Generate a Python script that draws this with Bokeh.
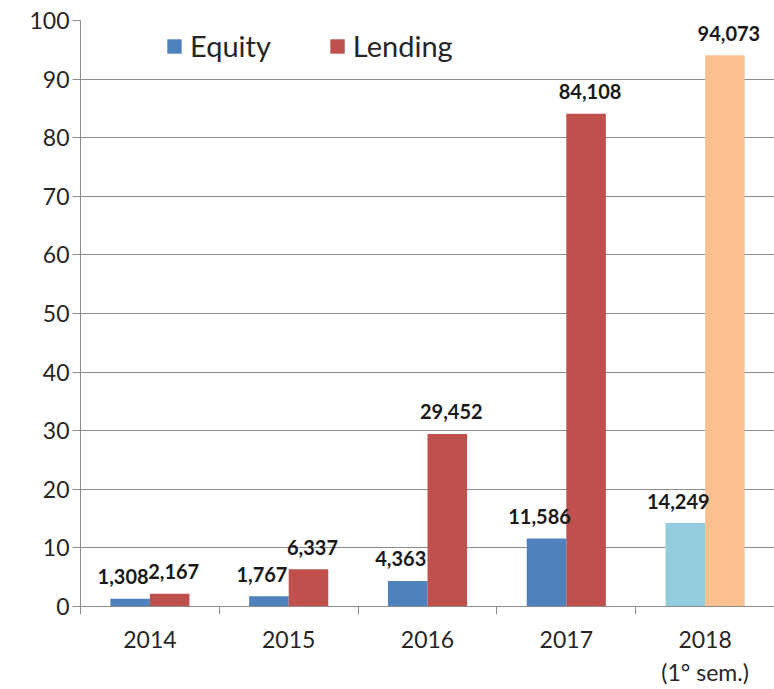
from bokeh.plotting import figure
from bokeh.models import ColumnDataSource, FixedTicker, Range1d, Legend, LegendItem
from bokeh.core.properties import value
from bokeh.embed import file_html
from bokeh.resources import INLINE

# ---- data ----
years = ["2014", "2015", "2016", "2017", "2018\n(1° sem.)"]
equity = [1308, 1767, 4363, 11586, 14249]
lending = [2167, 6337, 29452, 84108, 94073]
y_ticks = [0, 10, 20, 30, 40, 50, 60, 70, 80, 90, 100]

# ---- style ----
FONT = "Lato"
BLUE, RED = "#4F81BD", "#C0504D"
LIGHT_BLUE, LIGHT_ORANGE = "#93CDDD", "#FAC090"
GRID = "#8C8C8C"
TXT = "#262626"
BAR_W = 0.285
n = len(years)
centers = [i + 0.5 for i in range(n)]
eq_colors = [BLUE] * (n - 1) + [LIGHT_BLUE]
le_colors = [RED] * (n - 1) + [LIGHT_ORANGE]

eq_src = ColumnDataSource(dict(
    x=[c - BAR_W / 2 for c in centers],
    top=[v / 1000 for v in equity],
    label=[f"{v:,}" for v in equity],
    color=eq_colors,
))
le_src = ColumnDataSource(dict(
    x=[c + BAR_W / 2 for c in centers],
    top=[v / 1000 for v in lending],
    label=[f"{v:,}" for v in lending],
    color=le_colors,
))

p = figure(width=774, height=689, output_backend="svg", toolbar_location=None,
           x_range=Range1d(0, n), y_range=Range1d(0, 100),
           min_border_left=80, min_border_right=0, min_border_top=20,
           min_border_bottom=80)
p.outline_line_color = None
p.background_fill_color = "white"
p.border_fill_color = "white"

r_eq = p.vbar(x="x", top="top", width=BAR_W, bottom=0, source=eq_src,
              fill_color="color", line_color=None)
r_le = p.vbar(x="x", top="top", width=BAR_W, bottom=0, source=le_src,
              fill_color="color", line_color=None)

lbl_kw = dict(text="label", text_font=value(FONT), text_font_style="bold",
              text_font_size="20px", text_color="#1A1A1A", text_align="center",
              text_baseline="middle", y_offset=-22)
p.text(x="x", y="top", source=eq_src, x_offset=-7, **lbl_kw)
p.text(x="x", y="top", source=le_src, x_offset=4, **lbl_kw)

# axes
p.xaxis.ticker = FixedTicker(ticks=centers, minor_ticks=list(range(n + 1)))
p.xaxis.major_label_overrides = {c: y for c, y in zip(centers, years)}
p.xaxis.major_tick_line_color = None
p.xaxis.major_tick_out = 0
p.xaxis.major_tick_in = 0
p.xaxis.minor_tick_line_color = GRID
p.xaxis.minor_tick_out = 8
p.xaxis.minor_tick_in = 0
p.xaxis.axis_line_color = GRID
p.xaxis.major_label_text_font = FONT
p.xaxis.major_label_text_font_size = "23px"
p.xaxis.major_label_text_color = TXT
p.xaxis.major_label_standoff = 10

p.yaxis.ticker = FixedTicker(ticks=y_ticks, minor_ticks=[])
p.yaxis.axis_line_color = GRID
p.yaxis.major_tick_line_color = GRID
p.yaxis.major_tick_out = 8
p.yaxis.major_tick_in = 0
p.yaxis.minor_tick_line_color = None
p.yaxis.major_label_text_font = FONT
p.yaxis.major_label_text_font_size = "23px"
p.yaxis.major_label_text_color = TXT
p.yaxis.major_label_standoff = 3

p.xgrid.grid_line_color = None
p.ygrid.grid_line_color = GRID
p.ygrid.grid_line_width = 1

legend = Legend(items=[LegendItem(label="Equity", renderers=[r_eq], index=0),
                       LegendItem(label="Lending", renderers=[r_le], index=0)],
                orientation="horizontal", location=(85, 543))
legend.label_text_font = FONT
legend.label_text_font_size = "29px"
legend.label_text_color = TXT
legend.glyph_width = 18
legend.glyph_height = 18
legend.label_standoff = 7
legend.spacing = 57
legend.padding = 0
legend.margin = 0
legend.border_line_color = None
legend.background_fill_alpha = 0
p.add_layout(legend, "center")

open("out.html", "w").write(file_html(p, INLINE))
